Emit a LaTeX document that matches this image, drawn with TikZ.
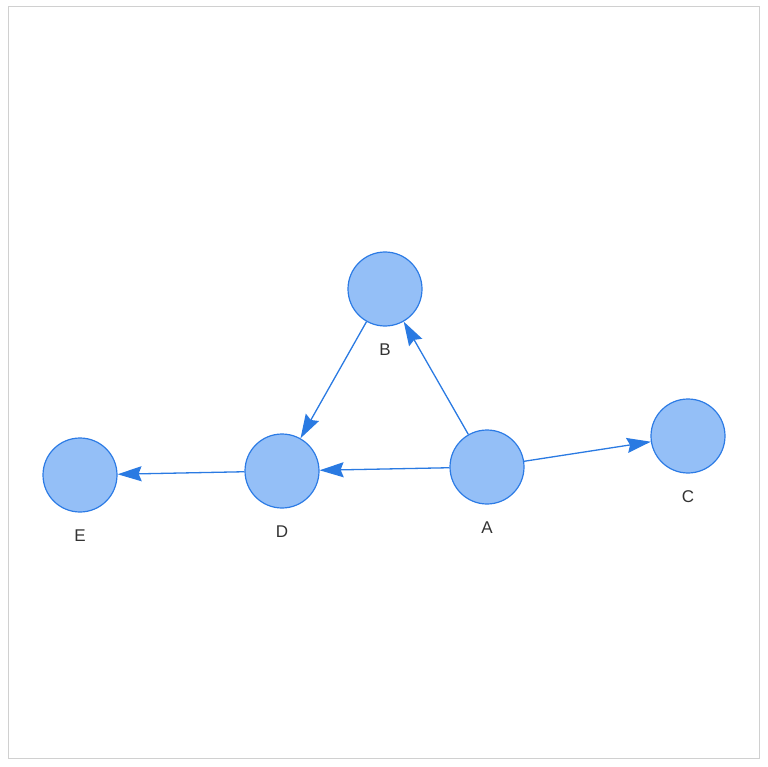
\documentclass[tikz,border=0pt]{standalone}
\usepackage{fontspec}
\setmainfont{Liberation Sans}
\usetikzlibrary{arrows.meta}
\definecolor{nodefill}{HTML}{94BFF7}
\definecolor{nodeline}{HTML}{2C7BE5}
\definecolor{edgecol}{HTML}{2A7AE2}
\definecolor{labelcol}{HTML}{333333}
\definecolor{framecol}{HTML}{D0D0D0}
\begin{document}
\begin{tikzpicture}[x=1pt,y=-1pt,
  vertex/.style={circle,draw=nodeline,fill=nodefill,line width=1.2pt,minimum size=74pt,inner sep=0pt},
  vlabel/.style={text=labelcol,font=\fontsize{17}{19}\selectfont,inner sep=0pt},
  edge/.style={draw=edgecol,line width=1.3pt,-{Stealth[length=24pt,width=15pt,inset=3pt]}}]
\useasboundingbox (0,0) rectangle (768,767);
\draw[framecol,line width=1pt] (8,7) rectangle (759.5,758.5);
\node[vertex] (B) at (385,289) {};
\node[vertex] (D) at (282,471) {};
\node[vertex] (A) at (487,467) {};
\node[vertex] (C) at (688,436) {};
\node[vertex] (E) at (80,475) {};
\node[vlabel] (Bl) at (385,350) {B};
\node[vlabel] (Dl) at (282,532) {D};
\node[vlabel] (Al) at (487,528) {A};
\node[vlabel] (Cl) at (688,497) {C};
\node[vlabel] (El) at (80,536) {E};
\draw[edge] (A) -- (B);
\draw[edge] (B) -- (D);
\draw[edge] (A) -- (D);
\draw[edge] (A) -- (C);
\draw[edge] (D) -- (E);
\end{tikzpicture}
\end{document}
